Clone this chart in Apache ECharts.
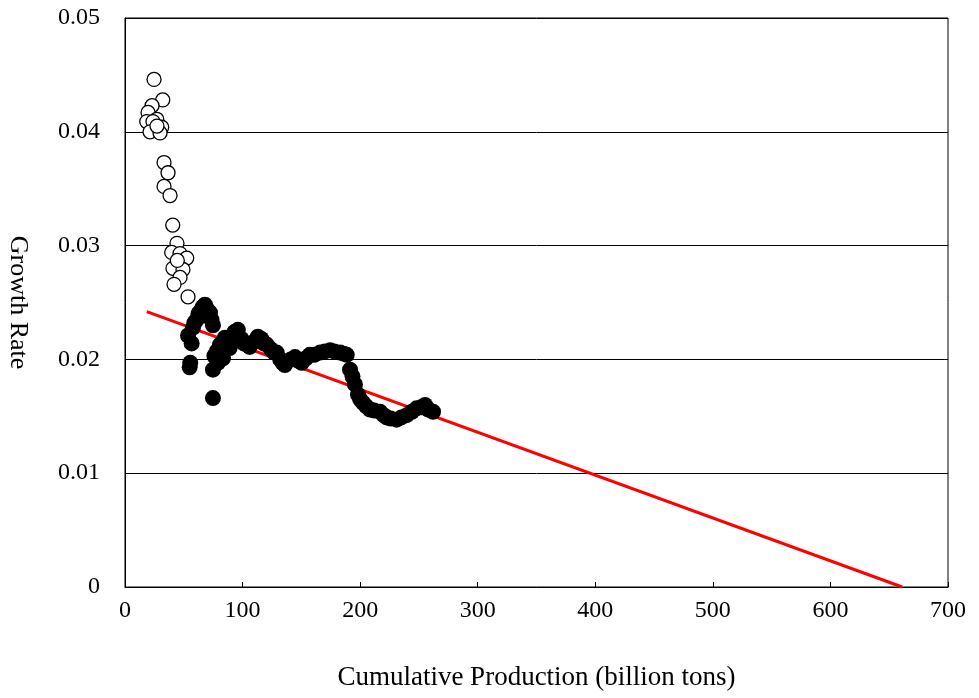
<!DOCTYPE html>
<html>
<head>
<meta charset="utf-8">
<script src="https://cdn.jsdelivr.net/npm/echarts@6/dist/echarts.min.js"></script>
<style>
  html, body { margin: 0; padding: 0; background: #fff; }
  #chart { width: 979px; height: 698px; }
</style>
</head>
<body>
<div id="chart"></div>
<script>
// early years (open circles)
const openX = [24.7, 32.1, 23, 19.6, 27, 18.5, 23.8, 31.2, 21.3, 29.8, 27.2,
  33.2, 36.6, 33.2, 38.3, 40.6, 44.2, 39.7, 46.8, 52.5, 40.8, 49.3, 46.8, 41.7, 53.6, 44.5];
const openY = [0.0446, 0.0428, 0.0423, 0.0417, 0.0411, 0.0409, 0.0409, 0.0404, 0.0400, 0.0399, 0.0405,
  0.0373, 0.0364, 0.0352, 0.0344, 0.0318, 0.0302, 0.0294, 0.0293, 0.0289, 0.0280, 0.0279, 0.0272, 0.0266, 0.0255, 0.0287];

// later years (filled circles)
const filledX = [53.6, 55, 55.5, 56.7, 57.8, 59, 61, 62.5, 63.8, 66, 68, 70, 72.3, 73.5, 74.8, 74.8, 74.8,
  76, 78, 79, 80.8, 82, 83.4, 85, 87, 89, 91, 93, 96, 99, 101, 103.5, 106, 109, 113, 116, 118, 120.5,
  124, 127, 129, 132, 134, 136, 137.5, 141, 144.6, 147, 150.3, 154, 157.2, 161, 165.9, 170, 174.4, 178,
  182.9, 186, 188.6, 191.4, 193.5, 195.6, 198.2, 200, 202.4, 205, 208.4, 212, 216.9, 220, 222.6, 226,
  231, 235, 239.6, 244, 248, 252, 255.2, 258, 262];
const filledY = [0.0221, 0.0193, 0.0197, 0.0214, 0.0228, 0.0232, 0.0235, 0.0240, 0.0242, 0.0246, 0.0248,
  0.0244, 0.0241, 0.0235, 0.0230, 0.0191, 0.0166, 0.0203, 0.0207, 0.0197, 0.0213, 0.0206, 0.0201, 0.0219,
  0.0215, 0.0210, 0.0220, 0.0224, 0.0226, 0.0218, 0.0214, 0.0213, 0.0211, 0.0215, 0.0220, 0.0218, 0.0214,
  0.0213, 0.0209, 0.0206, 0.0206, 0.0200, 0.0197, 0.0195, 0.0198, 0.0200, 0.0202, 0.0199, 0.0197, 0.0201,
  0.0204, 0.0204, 0.0206, 0.0207, 0.0208, 0.0207, 0.0206, 0.0205, 0.0204, 0.0191, 0.0185, 0.0178, 0.0169,
  0.0165, 0.0162, 0.0159, 0.0156, 0.0155, 0.0154, 0.0151, 0.0149, 0.0148, 0.0147, 0.0149, 0.0151, 0.0154,
  0.0157, 0.0158, 0.0160, 0.0156, 0.0154];

// fitted trend line
const fitX = [18.5, 661];
const fitY = [0.0242, 0];

const xTicks = [0, 100, 200, 300, 400, 500, 600, 700];
const yTicks = [0, 0.01, 0.02, 0.03, 0.04, 0.05];

const zip = (xs, ys) => xs.map((x, i) => [x, ys[i]]);

const font = "Liberation Serif";
let chart = echarts.init(document.getElementById("chart"));
let option = {
  animation: false,
  backgroundColor: "#fff",
  grid: {
    left: 125,
    right: 31,
    top: 18,
    bottom: 111,
    outerBoundsMode: "none",
    show: true,
    borderColor: "#000",
    borderWidth: 1,
  },
  xAxis: {
    type: "value",
    min: xTicks[0],
    max: xTicks[xTicks.length - 1],
    interval: 100,
    name: "Cumulative Production (billion tons)",
    nameLocation: "middle",
    nameGap: 77,
    nameTextStyle: { fontFamily: font, fontSize: 27, color: "#000" },
    axisLine: { lineStyle: { color: "#000", width: 1 } },
    axisTick: { inside: true, length: 5, lineStyle: { color: "#000" } },
    axisLabel: { fontFamily: font, fontSize: 24, color: "#000", margin: 12 },
    splitLine: { show: false },
  },
  yAxis: {
    type: "value",
    min: yTicks[0],
    max: yTicks[yTicks.length - 1],
    interval: 0.01,
    name: "Growth Rate",
    nameLocation: "middle",
    nameGap: 94,
    nameRotate: -90,
    nameTextStyle: { fontFamily: font, fontSize: 26, color: "#000" },
    axisLine: { show: true, lineStyle: { color: "#000", width: 1 } },
    axisTick: { show: false },
    axisLabel: { fontFamily: font, fontSize: 24, color: "#000", margin: 25 },
    splitLine: { show: true, lineStyle: { color: "#000", width: 1 } },
  },
  series: [
    {
      type: "line",
      data: zip(fitX, fitY),
      showSymbol: false,
      lineStyle: { color: "#ff0000", width: 3 },
      z: 2,
    },
    {
      type: "scatter",
      data: zip(openX, openY),
      symbolSize: 14,
      itemStyle: { color: "#fff", borderColor: "#000", borderWidth: 1.3, opacity: 1 },
      z: 3,
    },
    {
      type: "scatter",
      data: zip(filledX, filledY),
      symbolSize: 16,
      itemStyle: { color: "#000", opacity: 1 },
      z: 4,
    },
  ],
};
option && chart.setOption(option);
</script>
</body>
</html>
